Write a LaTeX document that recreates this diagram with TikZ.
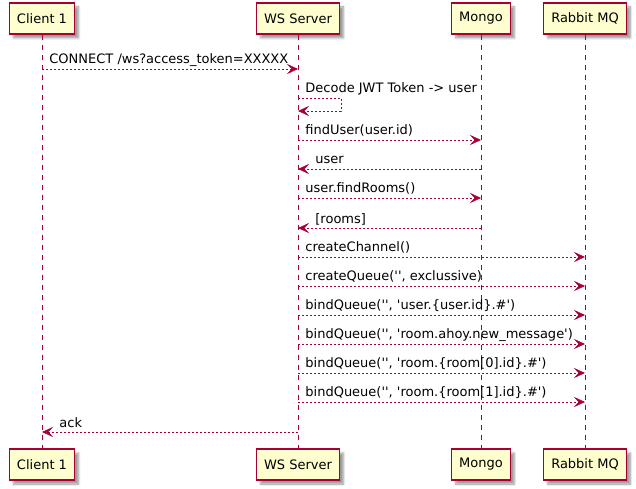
\documentclass[tikz,border=0pt]{standalone}
\usepackage{fontspec}
\setmainfont{DejaVu Sans}
\usetikzlibrary{arrows.meta,shadows.blur}
\definecolor{umlred}{HTML}{A80036}
\definecolor{umlfill}{HTML}{FEFECE}
\newcommand{\sq}{\textquotesingle}
\begin{document}
\begin{tikzpicture}[x=1pt,y=-1pt,font=\fontsize{13}{15}\selectfont]
  \useasboundingbox (0,0) rectangle (636,489);

        \begin{scope}[every node/.style={draw=umlred, fill=umlfill, line width=1.3pt, minimum height=31pt, inner xsep=7.5pt,
            blur shadow={shadow xshift=4pt, shadow yshift=-4pt, shadow blur steps=6, shadow opacity=40}}]
          \node (1)  at (42,18.5)   {Client 1};
          \node (2)  at (298,18.5)  {WS Server};
          \node (3)  at (481,18.5)  {Mongo};
          \node (4)  at (585,18.5)  {Rabbit MQ};
          \node (1b) at (42,464.5)  {Client 1};
          \node (2b) at (298,464.5) {WS Server};
          \node (3b) at (481,464.5) {Mongo};
          \node (4b) at (585,464.5) {Rabbit MQ};
        \end{scope}

        % lifelines
        \begin{scope}[umlred, line width=.8pt, dash pattern=on 5pt off 5pt]
          \draw (1) -- (1b);
          \draw (2) -- (2b);
          \draw (3) -- (3b);
          \draw (4) -- (4b);
        \end{scope}

        % message rows
        \foreach \n/\y in {1/69, 2/98, 3/111, 4/140, 5/169, 6/198, 7/228, 8/257,
                           9/286, 10/315, 11/344, 12/373, 13/402, 14/432}
          \coordinate (r\n) at (0,\y);

        \begin{scope}[msg/.style={draw=umlred, line width=.8pt, dash pattern=on 2pt off 2pt,
                        -{Stealth[length=11pt, width=10pt, inset=4.5pt, line width=.5pt]}},
                      every edge/.style={msg},
                      every node/.style={text=black, anchor=base west, inner sep=0pt},
                      fwd/.style={pos=0, xshift=7pt, yshift=5.5pt},
                      back/.style={pos=1, xshift=17pt, yshift=5pt}]
          \path (1 |- r1)  edge node[fwd] {CONNECT /ws?access\_token=XXXXX} (2 |- r1);
          \draw[msg] (2 |- r2) -- node[fwd] {Decode JWT Token -> user} ++(43,0) |- (2 |- r3);
          \path (2 |- r4)  edge node[fwd] {findUser(user.id)} (3 |- r4);
          \path (3 |- r5)  edge node[back] {user} (2 |- r5);
          \path (2 |- r6)  edge node[fwd] {user.findRooms()} (3 |- r6);
          \path (3 |- r7)  edge node[back] {[rooms]} (2 |- r7);
          \path (2 |- r8)  edge node[fwd] {createChannel()} (4 |- r8);
          \path (2 |- r9)  edge node[fwd] {createQueue(\sq\sq, exclussive)} (4 |- r9);
          \path (2 |- r10) edge node[fwd] {bindQueue(\sq\sq, \sq user.\{user.id\}.\#\sq)} (4 |- r10);
          \path (2 |- r11) edge node[fwd] {bindQueue(\sq\sq, \sq room.ahoy.new\_message\sq)} (4 |- r11);
          \path (2 |- r12) edge node[fwd] {bindQueue(\sq\sq, \sq room.\{room[0].id\}.\#\sq)} (4 |- r12);
          \path (2 |- r13) edge node[fwd] {bindQueue(\sq\sq, \sq room.\{room[1].id\}.\#\sq)} (4 |- r13);
          \path (2 |- r14) edge node[back] {ack} (1 |- r14);
        \end{scope}

      \end{tikzpicture}
\end{document}
